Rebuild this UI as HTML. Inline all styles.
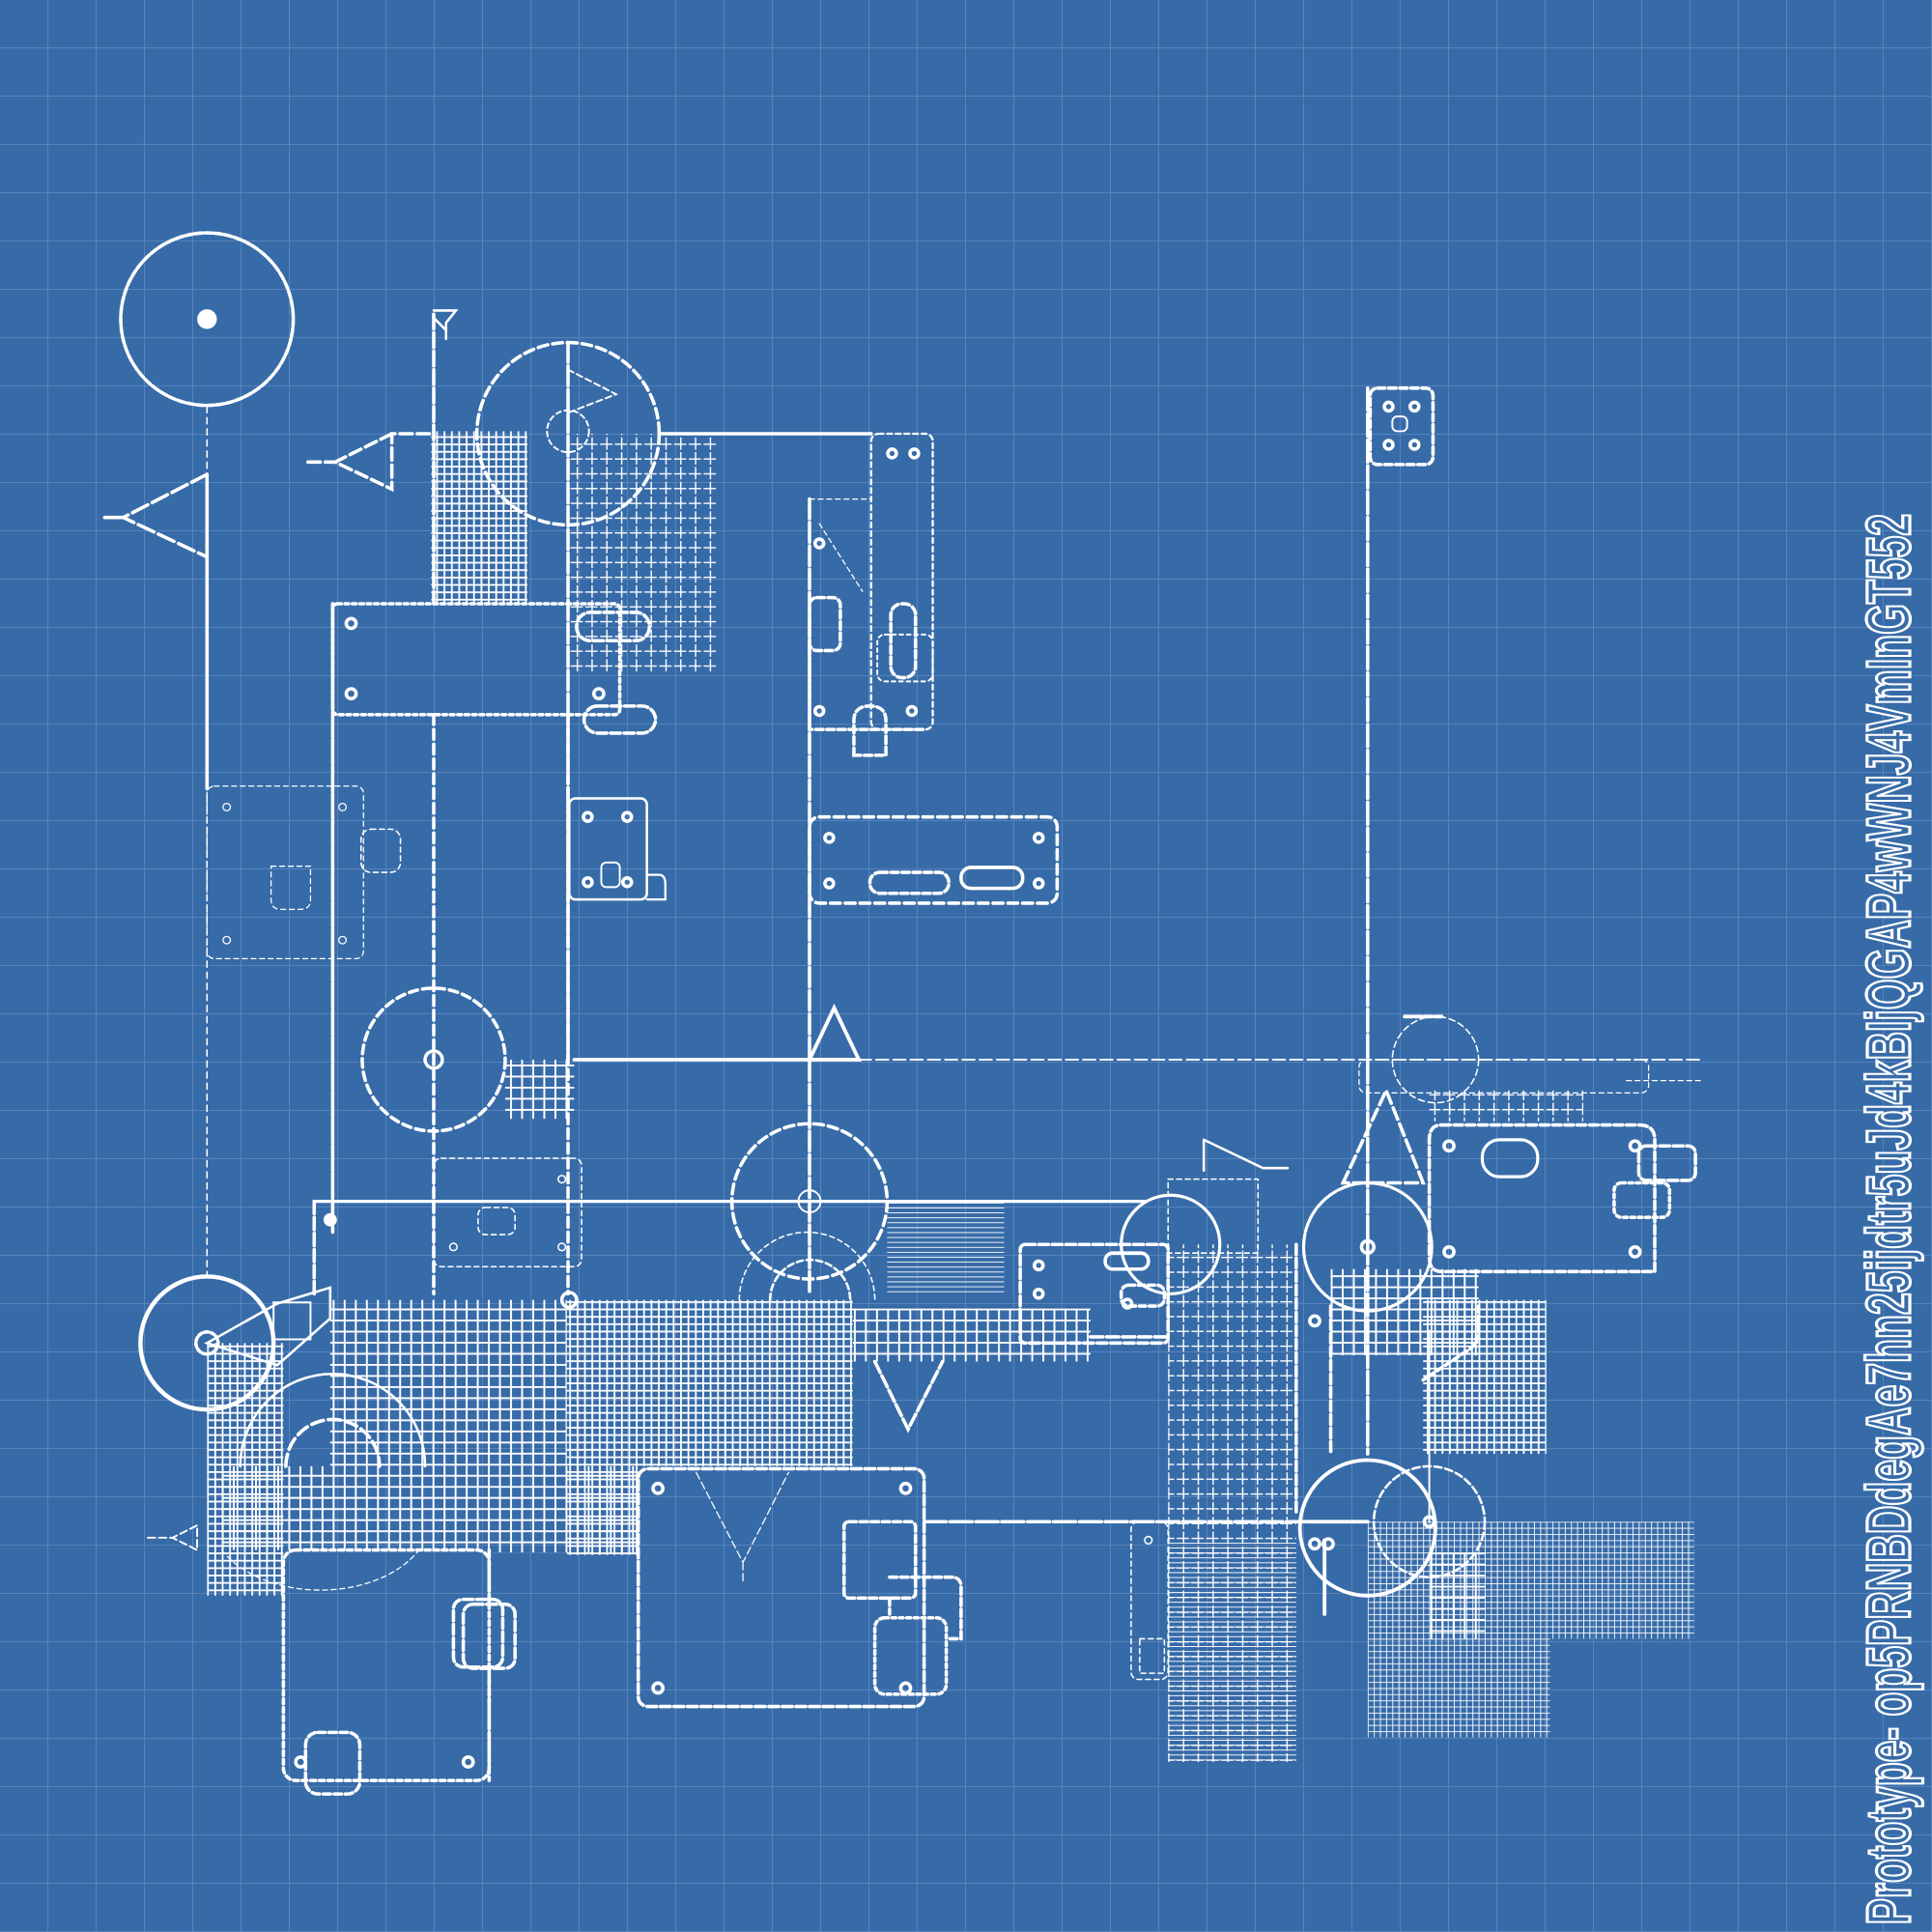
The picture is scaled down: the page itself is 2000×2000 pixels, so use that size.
<!DOCTYPE html>
<html><head><meta charset="utf-8"><style>html,body{margin:0;padding:0;background:#376ba8}svg{display:block}</style></head>
<body>
<svg width="2000" height="2000" viewBox="0 0 1568 1568" xmlns="http://www.w3.org/2000/svg">
<defs>
<pattern id="bg" width="39.2" height="39.2" patternUnits="userSpaceOnUse"><path d="M39.2 0V39.2H0" fill="none" stroke="#6a93c4" stroke-width="1.2" opacity="0.8"/></pattern>
<pattern id="g1" width="9" height="9" patternUnits="userSpaceOnUse"><path d="M0 0H9M0 0V9" stroke="#fff" stroke-width="3"/></pattern>
<pattern id="g2" width="6" height="6" patternUnits="userSpaceOnUse"><path d="M0 0H6M0 0V6" stroke="#fff" stroke-width="2.8"/></pattern>
<pattern id="g3" width="12" height="12" patternUnits="userSpaceOnUse"><path d="M0 0H12M0 0V12" stroke="#fff" stroke-width="2.2" stroke-dasharray="5 2"/></pattern>
<pattern id="g4" width="5" height="5" patternUnits="userSpaceOnUse"><path d="M0 0H5M0 0V5" stroke="#fff" stroke-width="1.4"/></pattern>
<pattern id="hl" width="4" height="4" patternUnits="userSpaceOnUse"><path d="M0 0H4" stroke="#fff" stroke-width="1.4"/></pattern>
</defs>
<rect width="1568" height="1568" fill="#376ba8"/>
<rect width="1568" height="1568" fill="url(#bg)"/>
<g fill="none" stroke="#fff" stroke-width="2.8" stroke-linecap="round">
<rect x="350" y="350" width="78" height="140" fill="url(#g2)" stroke="none"/>
<rect x="461" y="352" width="121" height="193" fill="url(#g3)" stroke="none"/>
<rect x="410" y="860" width="56" height="48" fill="url(#g1)" stroke="none"/>
<rect x="720" y="975" width="95" height="75" fill="url(#hl)" stroke="none"/>
<rect x="268" y="1055" width="192" height="135" fill="url(#g1)" stroke="none"/>
<rect x="460" y="1055" width="232" height="135" fill="url(#g2)" stroke="none"/>
<rect x="692" y="1062" width="193" height="43" fill="url(#g1)" stroke="none"/>
<rect x="168" y="1090" width="62" height="205" fill="url(#g2)" stroke="none"/>
<rect x="180" y="1190" width="220" height="68" fill="url(#g1)" stroke="none"/>
<rect x="400" y="1190" width="118" height="70" fill="url(#g1)" stroke="none"/>
<rect x="460" y="1190" width="58" height="72" fill="url(#g2)" stroke="none"/>
<rect x="948" y="1010" width="104" height="420" fill="url(#g3)" stroke="none"/>
<rect x="948" y="1250" width="104" height="180" fill="url(#hl)" stroke="none"/>
<rect x="1080" y="1030" width="120" height="70" fill="url(#g1)" stroke="none"/>
<rect x="1155" y="1055" width="100" height="125" fill="url(#g2)" stroke="none"/>
<rect x="1110" y="1235" width="148" height="175" fill="url(#g4)" stroke="none"/>
<rect x="1258" y="1235" width="117" height="95" fill="url(#g4)" stroke="none"/>
<rect x="1160" y="1260" width="45" height="70" fill="url(#g1)" stroke="none"/>
<rect x="1160" y="885" width="125" height="25" fill="url(#g3)" stroke="none"/>
<circle cx="168" cy="259" r="70" stroke-dasharray="6 2"/>
<circle cx="168" cy="259" r="8" fill="#fff" stroke="none"/>
<path d="M168 330V1040" stroke-width="1.2" stroke-dasharray="5 4"/>
<path d="M168 385V640" />
<path d="M168 385L100 420L168 452M85 420H100" stroke-dasharray="14 4"/>
<path d="M352 255V490" stroke-dasharray="12 3"/>
<path d="M352 252H370L362 262V275M352 258L362 268" stroke-width="2"/>
<path d="M318 352L272 375L318 397V352H352M250 375H272" stroke-dasharray="10 4"/>
<circle cx="461" cy="352" r="74" stroke-dasharray="8 4"/>
<circle cx="461" cy="350" r="17" stroke-width="1.5" stroke-dasharray="4 3"/>
<path d="M461 300L500 320L461 335" stroke-width="1.5" stroke-dasharray="5 3"/>
<path d="M461 278V860" stroke-dasharray="16 3"/>
<path d="M535 352H707"/>
<rect x="707" y="352" width="50" height="240" rx="6" stroke-width="1.8" stroke-dasharray="4 3"/>
<circle cx="724" cy="368" r="3.5"/><circle cx="742" cy="368" r="3.5"/>
<circle cx="740" cy="577" r="3.5"/>
<rect x="723" y="490" width="20" height="60" rx="9" stroke-dasharray="6 3"/>
<rect x="712" y="515" width="45" height="38" rx="6" stroke-width="1.5" stroke-dasharray="3 3"/>
<rect x="270" y="490" width="233" height="90" rx="4" stroke-dasharray="3 3"/>
<circle cx="285" cy="506" r="4"/><circle cx="285" cy="563" r="4"/><circle cx="486" cy="563" r="4"/>
<rect x="468" y="497" width="59" height="23" rx="11" stroke-dasharray="8 3"/>
<rect x="474" y="573" width="58" height="22" rx="11" stroke-dasharray="8 3"/>
<path d="M270 490V1000" stroke-dasharray="20 2"/>
<path d="M352 580V1050" stroke-dasharray="8 4"/>
<path d="M461 580V1050" stroke-dasharray="8 4"/>
<rect x="168" y="638" width="127" height="140" rx="6" stroke-width="1" stroke-dasharray="4 3"/>
<circle cx="184" cy="655" r="3" stroke-width="1"/><circle cx="278" cy="655" r="3" stroke-width="1"/>
<circle cx="184" cy="763" r="3" stroke-width="1"/><circle cx="278" cy="763" r="3" stroke-width="1"/>
<rect x="293" y="673" width="32" height="35" rx="8" stroke-width="1.2" stroke-dasharray="4 3"/>
<path d="M220 703H252V730Q252 738 244 738H228Q220 738 220 730Z" stroke-width="1" stroke-dasharray="4 3"/>
<rect x="462" y="648" width="63" height="82" rx="5" stroke-width="2"/>
<circle cx="477" cy="663" r="3.5"/><circle cx="509" cy="663" r="3.5"/><circle cx="477" cy="716" r="3.5"/><circle cx="509" cy="716" r="3.5"/>
<rect x="488" y="700" width="15" height="20" rx="4" stroke-width="1.5"/>
<path d="M525 710H535Q540 710 540 718V730H525" stroke-width="1.8"/>
<path d="M657 405V1050" stroke-dasharray="16 3"/>
<path d="M657 405H707M665 425L700 480" stroke-width="1" stroke-dasharray="4 3"/>
<rect x="657" y="485" width="25" height="43" rx="6" stroke-dasharray="6 3"/>
<path d="M657 525V592H752" stroke-dasharray="6 3"/>
<circle cx="665" cy="441" r="3.5"/><circle cx="665" cy="577" r="3.5"/>
<path d="M693 613V585Q693 573 706 573Q719 573 719 585V613Z" stroke-dasharray="6 3"/>
<rect x="657" y="663" width="201" height="70" rx="8" stroke-dasharray="8 4"/>
<circle cx="673" cy="680" r="3.5"/><circle cx="843" cy="680" r="3.5"/><circle cx="673" cy="717" r="3.5"/><circle cx="843" cy="717" r="3.5"/>
<rect x="706" y="708" width="64" height="17" rx="8" stroke-dasharray="6 3"/>
<rect x="780" y="704" width="50" height="17" rx="8"/>
<circle cx="352" cy="860" r="58" stroke-dasharray="7 4"/>
<circle cx="352" cy="860" r="7" stroke-dasharray="3 2"/>
<path d="M466 860H657"/>
<path d="M657 860L677 818L697 860Z" stroke-width="3"/>
<path d="M697 860H1380" stroke-width="1.5" stroke-dasharray="10 4"/>
<circle cx="657" cy="975" r="63" stroke-dasharray="8 4"/>
<circle cx="657" cy="975" r="9" stroke-width="1.5"/>
<path d="M255 975H930" stroke-width="2.5"/>
<path d="M255 975V1050" stroke-dasharray="10 3"/>
<rect x="352" y="940" width="120" height="88" rx="6" stroke-width="1.2" stroke-dasharray="4 3"/>
<circle cx="368" cy="1012" r="3" stroke-width="1.2"/><circle cx="456" cy="957" r="3" stroke-width="1.2"/><circle cx="456" cy="1012" r="3" stroke-width="1.2"/>
<rect x="388" y="980" width="30" height="22" rx="6" stroke-width="1.2" stroke-dasharray="4 3"/>
<circle cx="268" cy="990" r="4" fill="#fff"/>
<path d="M600 1055A55 55 0 0 1 710 1055" stroke-width="1.2" stroke-dasharray="4 3"/>
<path d="M625 1055A30 30 0 0 1 690 1055" stroke-width="2" stroke-dasharray="5 3"/>
<circle cx="462" cy="1055" r="6"/>
<path d="M977 925L1025 948H1045M977 925V950" stroke-width="2"/>
<rect x="948" y="957" width="73" height="60" stroke-width="1.2" stroke-dasharray="4 3"/>
<circle cx="950" cy="1010" r="40" stroke-width="2.5"/>
<rect x="828" y="1010" width="120" height="80" rx="4" stroke-dasharray="8 3"/>
<circle cx="843" cy="1027" r="3.5"/><circle cx="843" cy="1050" r="3.5"/><circle cx="915" cy="1058" r="3.5"/>
<rect x="897" y="1017" width="35" height="13" rx="6"/>
<rect x="910" y="1043" width="35" height="17" rx="6" stroke-dasharray="5 3"/>
<path d="M885 1085H948M710 1105L737 1160L765 1105" stroke-dasharray="10 3"/>
<path d="M1052 1010V1230M1080 1060V1180" stroke-dasharray="8 3"/>
<path d="M1110 315V1180" stroke-dasharray="18 3"/>
<rect x="1112" y="315" width="51" height="62" rx="6" stroke-dasharray="6 3"/>
<circle cx="1127" cy="330" r="3.5"/><circle cx="1148" cy="330" r="3.5"/><circle cx="1127" cy="361" r="3.5"/><circle cx="1148" cy="361" r="3.5"/>
<rect x="1130" y="338" width="12" height="12" rx="4" stroke-width="1.5"/>
<circle cx="1165" cy="860" r="35" stroke-width="1.2" stroke-dasharray="5 3"/>
<path d="M1140 825H1172" stroke-width="3" stroke-dasharray="6 2"/>
<rect x="1103" y="860" width="235" height="27" rx="6" stroke-width="1" stroke-dasharray="4 3"/>
<path d="M1320 877H1380" stroke-width="1" stroke-dasharray="4 3"/>
<path d="M1090 960L1125 885L1155 960Z" stroke-dasharray="10 4"/>
<circle cx="1110" cy="1012" r="52" stroke-width="2.5" stroke-dasharray="20 2"/>
<circle cx="1110" cy="1012" r="5"/>
<path d="M1170 913H1330Q1343 913 1343 925V1032H1170Q1160 1032 1160 1020V925Q1160 913 1170 913Z" stroke-dasharray="7 3"/>
<circle cx="1176" cy="930" r="4"/><circle cx="1327" cy="930" r="4"/><circle cx="1176" cy="1016" r="4"/><circle cx="1327" cy="1016" r="4"/>
<rect x="1203" y="925" width="45" height="30" rx="14" stroke-width="2.5"/>
<rect x="1330" y="930" width="46" height="28" rx="6" stroke-dasharray="8 3"/>
<rect x="1310" y="960" width="45" height="28" rx="6" stroke-dasharray="3 3"/>
<circle cx="168" cy="1090" r="54" stroke-width="3.5"/>
<circle cx="168" cy="1090" r="9" stroke-dasharray="3 2"/>
<path d="M168 1090L225 1058L268 1045V1070L225 1108Z" stroke-width="2"/>
<rect x="222" y="1057" width="30" height="30" stroke-width="1.5"/>
<path d="M195 1190A75 75 0 0 1 345 1190" stroke-width="2"/>
<path d="M232 1190A38 38 0 0 1 308 1190" stroke-dasharray="10 4"/>
<path d="M180 1258A90 60 0 0 0 340 1258" stroke-width="1" stroke-dasharray="4 3"/>
<path d="M120 1248H140L160 1238V1258L140 1248" stroke-width="1.5" stroke-dasharray="6 3"/>
<rect x="230" y="1258" width="167" height="187" rx="10" stroke-dasharray="4 3"/>
<circle cx="244" cy="1430" r="4"/><circle cx="380" cy="1430" r="4"/>
<path d="M397 1258V1300M397 1352V1445" stroke-dasharray="6 3"/>
<rect x="368" y="1298" width="40" height="55" rx="8" stroke-dasharray="8 3"/>
<rect x="376" y="1302" width="42" height="52" rx="8" stroke-dasharray="8 3"/>
<rect x="248" y="1406" width="44" height="50" rx="10" stroke-dasharray="6 3"/>
<rect x="518" y="1192" width="232" height="193" rx="8" stroke-dasharray="8 3"/>
<circle cx="534" cy="1208" r="4"/><circle cx="735" cy="1208" r="4"/><circle cx="534" cy="1370" r="4"/><circle cx="735" cy="1370" r="4"/>
<path d="M565 1195L603 1268L640 1195M603 1268V1285" stroke-width="1" stroke-dasharray="6 3"/>
<rect x="685" y="1235" width="58" height="62" rx="4" stroke-dasharray="6 3"/>
<path d="M722 1297V1310M722 1280H772Q780 1280 780 1288V1330H768" stroke-dasharray="6 3"/>
<rect x="710" y="1313" width="58" height="62" rx="8" stroke-dasharray="3 3"/>
<path d="M750 1235H1110" stroke-dasharray="18 3"/>
<rect x="918" y="1235" width="30" height="128" rx="6" stroke-width="1.2" stroke-dasharray="4 3"/>
<circle cx="932" cy="1250" r="3" stroke-width="1.2"/>
<path d="M925 1330H945V1358H925Z" stroke-width="1.2" stroke-dasharray="4 3"/>
<circle cx="1110" cy="1240" r="55" stroke-width="3"/>
<circle cx="1160" cy="1235" r="45" stroke-width="2" stroke-dasharray="6 3"/>
<circle cx="1160" cy="1235" r="4"/>
<path d="M1160 1080V1235" stroke-width="1.5"/>
<path d="M1060 1235H1110M1075 1250V1310" stroke-width="3"/>
<circle cx="1067" cy="1253" r="4"/><circle cx="1078" cy="1253" r="4"/>
<circle cx="1067" cy="1072" r="4"/>
<path d="M1200 1060V1080Q1200 1092 1188 1098L1155 1120" stroke-dasharray="5 3"/>
</g>
<text transform="translate(1550 1562) rotate(-90)" font-family="Liberation Sans Narrow, Liberation Sans, sans-serif" font-weight="bold" font-size="50" fill="#376ba8" stroke="#fff" stroke-width="2.5" textLength="1145" lengthAdjust="spacingAndGlyphs">Prototype- op5PRNBDdegAe7hn25ijdtr5uJd4kBIjQGAP4wWNJ4VmInGT552</text>
</svg>
</body></html>
